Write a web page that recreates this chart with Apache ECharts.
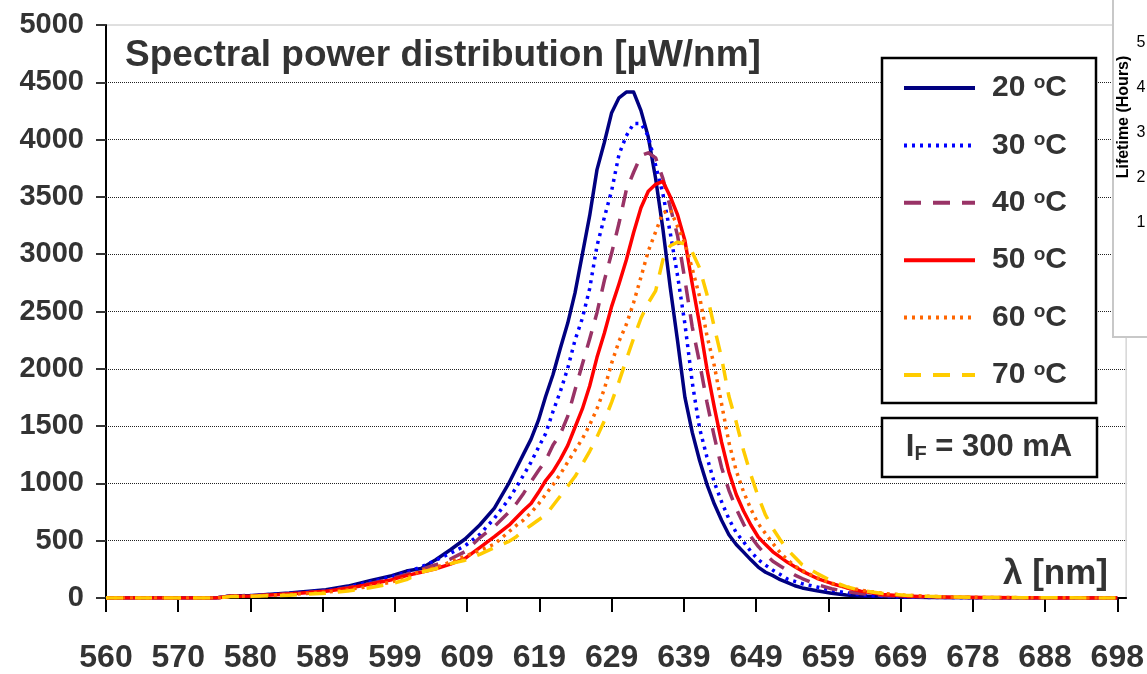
<!DOCTYPE html>
<html>
<head>
<meta charset="utf-8">
<script src="https://cdn.jsdelivr.net/npm/echarts@6/dist/echarts.min.js"></script>
<style>
html,body{margin:0;padding:0;background:#fff;}
#chart{width:1147px;height:674px;}
</style>
</head>
<body>
<div id="chart"></div>
<script>
// ---- data ----
const wavelengths = [560,570,575,577,578,580,585,590,593,596,599,601,603,605,607,609,611,613,
  615,616,617,618,619,620,621,622,623,624,625,626,627,628,629,630,631,632,633,634,635,636,637,638,639,640,
  641,642,643,644,645,646,647,648,649,650,651,652,653,654,655,
  657,659,661,663,666,669,672,676,680,685,690,698];

const temperatures = [20,30,40,50,60,70];

const p20 = [0,0,0,18,20,22,43,72,104,150,195,235,258,334,421,515,637,785,
  1005,1133,1260,1386,1549,1760,1950,2180,2397,2662,2998,3336,3738,3975,4235,4365,4415,4415,4253,4022,3660,3217,2708,2240,1750,1445,
  1200,992,822,678,552,467,400,333,270,225,195,160,135,107,88,
  63,42,26,18,12,8,5,3,2,0,0,0];

const p30 = [0,0,0,18,20,22,40,65,95,140,185,225,270,330,390,456,555,695,
  865,968,1075,1185,1313,1435,1628,1803,2003,2250,2440,2700,3073,3320,3555,3870,4033,4140,4140,4030,3776,3524,3185,2810,2390,1880,
  1480,1230,1010,840,690,570,490,405,335,287,243,205,165,145,125,
  96,68,45,28,15,8,5,3,2,0,0,0];

const p40 = [0,0,0,17,18,20,38,60,90,125,170,205,250,290,340,405,525,625,
  750,825,915,1015,1110,1200,1335,1430,1585,1815,2040,2260,2490,2770,3010,3270,3560,3715,3860,3885,3840,3660,3410,3160,2775,2364,
  2053,1710,1410,1139,940,780,645,535,450,380,320,280,240,200,170,
  118,81,55,40,22,13,8,4,2,1,0,0];

const p50 = [0,0,0,15,16,18,35,58,85,120,160,195,225,255,295,345,440,535,
  635,700,765,825,920,1025,1105,1210,1330,1490,1650,1850,2100,2310,2545,2740,2950,3190,3405,3550,3610,3635,3502,3343,3117,2740,
  2390,2000,1668,1360,1100,903,759,637,532,466,403,356,311,273,235,
  172,127,90,60,30,18,12,7,4,2,1,0];

const p60 = [0,0,0,15,15,18,30,50,72,102,140,175,240,265,315,365,415,470,
  579,634,681,746,819,904,989,1081,1186,1288,1389,1510,1652,1823,2050,2240,2386,2578,2800,3028,3195,3360,3390,3240,3095,2873,
  2630,2290,2030,1694,1357,1110,926,775,648,562,476,396,332,279,240,
  177,129,97,69,40,25,15,8,5,3,2,0];

const p70 = [0,0,0,12,12,15,25,42,62,90,125,160,225,255,300,330,381,440,
  494,535,590,635,681,723,807,890,975,1060,1167,1280,1406,1546,1710,1888,2079,2267,2441,2575,2680,2953,3074,3105,3090,3018,
  2880,2650,2365,2096,1760,1535,1287,1074,884,724,605,508,422,355,290,
  215,150,99,65,40,25,15,8,5,3,2,0];

const xTickLabels = ['560','570','580','589','599','609','619','629','639','649','659','669','678','688','698'];
const lifetimeTickLabels = ['5','4','3','2','1'];

// ---- build ----
const seriesValues = [p20,p30,p40,p50,p60,p70];
const colors = ['#000080','#0000ff','#993366','#ff0000','#ff6600','#ffcc00'];
const dashTypes = ['solid',[3,5],[17,12],'solid',[3,5],[17,12]];

const xMin = 560, xMaxLabel = 698;
const tickStep = (xMaxLabel - xMin) / (xTickLabels.length - 1);
const tickPos = xTickLabels.map((_, k) => xMin + k * tickStep);
function labelFor(v){
  const k = Math.round((v - xMin) / tickStep);
  return xTickLabels[k] !== undefined ? xTickLabels[k] : '';
}

const series = seriesValues.map((vals, si) => ({
  name: temperatures[si] + ' oC',
  type: 'line',
  data: wavelengths.map((w, i) => [w, vals[i]]),
  symbol: 'none',
  showSymbol: false,
  smooth: false,
  animation: false,
  lineStyle: { color: colors[si], width: 3.5, type: dashTypes[si], cap: 'butt', join: 'round' },
  itemStyle: { color: colors[si] },
  z: 2 + si * 0.01
}));

const chart = echarts.init(document.getElementById('chart'), null, {renderer: 'canvas'});
const FONT = 'Liberation Sans, Arial, sans-serif';
const TXT = '#333333';

chart.setOption({
  animation: false,
  backgroundColor: '#ffffff',
  textStyle: { fontFamily: FONT },
  grid: { left: 106, right: 19, top: 25, bottom: 70, show: true, borderColor: '#c0c0c0', borderWidth: 1, backgroundColor: '#ffffff' },
  title: [
    { text: 'Spectral power distribution [µW/nm]', left: 120, top: 32,
      textStyle: { fontFamily: FONT, fontSize: 37, fontWeight: 'bold', color: TXT } },
    { text: 'λ [nm]', right: 34, top: 552,
      textStyle: { fontFamily: FONT, fontSize: 35, fontWeight: 'bold', color: TXT } }
  ],
  xAxis: {
    type: 'value', min: xMin, max: 699.2,
    axisLine: { show: true, onZero: false, lineStyle: { color: '#000', width: 2 } },
    axisTick: { show: true, customValues: tickPos, length: 14, lineStyle: { color: '#000', width: 2 } },
    axisLabel: { customValues: tickPos, formatter: labelFor, fontFamily: FONT, fontSize: 32, fontWeight: 'bold', color: TXT, margin: 44 },
    splitLine: { show: false }
  },
  yAxis: {
    type: 'value', min: 0, max: 5000, interval: 500,
    axisLine: { show: true, lineStyle: { color: '#000', width: 2 } },
    axisTick: { show: true, length: 10, lineStyle: { color: '#333', width: 2 } },
    axisLabel: { formatter: v => String(v), fontFamily: FONT, fontSize: 29, fontWeight: 'bold', color: TXT, margin: 22 },
    splitLine: { show: true, showMaxLine: false, lineStyle: { color: '#222', width: 1, type: [1, 1] } }
  },
  legend: {
    orient: 'vertical', left: 902, top: 73, padding: 0, itemGap: 27.4,
    itemWidth: 71, itemHeight: 14, z: 10,
    data: series.map(s => s.name),
    itemStyle: { opacity: 0 },
    lineStyle: { width: 4 },
    formatter: function(name){ const t = name.split(' ')[0]; return '{n|' + t + ' }{s|o}{n|C}'; },
    textStyle: {
      padding: [0, 0, 0, 12],
      rich: {
        n: { fontFamily: FONT, fontSize: 30, fontWeight: 'bold', color: TXT, lineHeight: 30 },
        s: { fontFamily: FONT, fontSize: 19, fontWeight: 'bold', color: TXT, lineHeight: 30, verticalAlign: 'top' }
      }
    }
  },
  graphic: [
    { type: 'rect', z: 5, shape: { x: 882, y: 58, width: 214, height: 345 },
      style: { fill: '#ffffff', stroke: '#000', lineWidth: 2.5 } },
    { type: 'rect', z: 5, shape: { x: 882, y: 418, width: 215, height: 59 },
      style: { fill: '#ffffff', stroke: '#000', lineWidth: 2.5 } },
    { type: 'text', z: 6, x: 989, y: 447,
      style: { text: '{b|I}{sub|F}{b| = 300 mA}', align: 'center', verticalAlign: 'middle',
        rich: {
          b: { fontFamily: FONT, fontSize: 31, fontWeight: 'bold', fill: TXT, lineHeight: 34 },
          sub: { fontFamily: FONT, fontSize: 20, fontWeight: 'bold', fill: TXT, lineHeight: 34, verticalAlign: 'bottom' }
        } } },
    // fragment of neighbouring chart at the right edge
    { type: 'rect', z: 7, shape: { x: 1113, y: -5, width: 60, height: 342 },
      style: { fill: '#ffffff', stroke: '#c8c8c8', lineWidth: 2 } },
    { type: 'text', z: 8, x: 1124, y: 117, rotation: Math.PI / 2,
      style: { text: 'Lifetime (Hours)', align: 'center', verticalAlign: 'middle',
        font: 'bold 16px ' + FONT, fill: '#000' } }
  ].concat(lifetimeTickLabels.map((t, k) => ({
      type: 'text', z: 8, x: 1141, y: 43 + k * 45,
      style: { text: t, align: 'center', verticalAlign: 'middle', font: '16px ' + FONT, fill: '#000' }
  }))),
  series: series
});
</script>
</body>
</html>
